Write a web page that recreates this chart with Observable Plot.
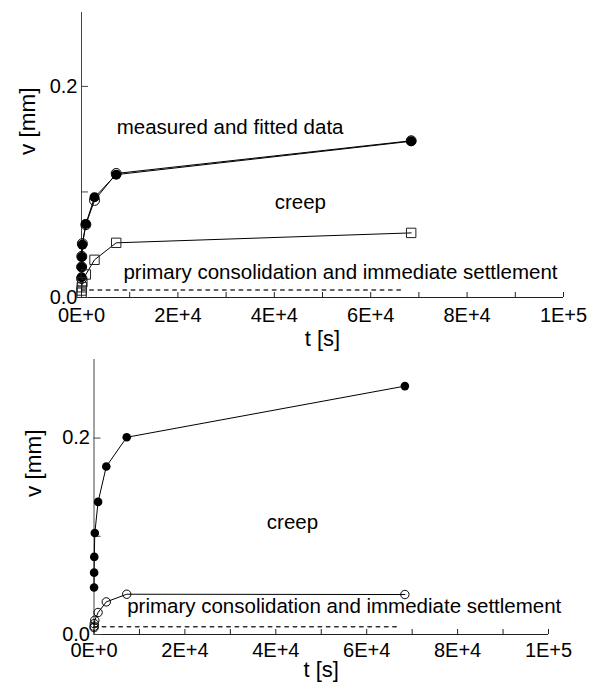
<!DOCTYPE html>
<html>
<head>
<meta charset="utf-8">
<script src="https://cdn.jsdelivr.net/npm/d3@7"></script>
<script src="https://cdn.jsdelivr.net/npm/@observablehq/plot@0.6"></script>
<style>
  body { margin: 0; background: white; }
  #chart svg { display: block; }
</style>
</head>
<body>
<div id="chart"></div>
<script>
// ---- data ----
const times = [15, 30, 60, 180, 900, 2700, 7200, 68400];           // t [s]
const topMeasured = [0.018, 0.029, 0.039, 0.051, 0.069, 0.092, 0.1175, 0.1485];
const topFitted   = [0.0192, 0.0287, 0.0383, 0.050, 0.0696, 0.0949, 0.1164, 0.148];
const topPrimary  = [0.0045, 0.0066, 0.0097, 0.0145, 0.0218, 0.0357, 0.0518, 0.0612];
const bottomTotal   = [0.0478, 0.063, 0.079, 0.1034, 0.135, 0.171, 0.2008, 0.2529];
const bottomPrimary = [0.007, 0.0084, 0.011, 0.0145, 0.0224, 0.0332, 0.041, 0.0407];
const dottedT = [0, 66500];
const topDottedV = 0.007;
const bottomDottedV = 0.008;

const xTickValues = [0, 10000, 20000, 30000, 40000, 50000, 60000, 70000, 80000, 90000, 100000];
const xLabelValues = [0, 20000, 40000, 60000, 80000, 100000];
const xTickLabels = ["0E+0", "2E+4", "4E+4", "6E+4", "8E+4", "1E+5"];
const yTickValues = [0, 0.1, 0.2];
const yLabelValues = [0, 0.2];
const yTickLabels = ["0.0", "0.2"];
const xTitle = "t [s]";
const yTitle = "v [mm]";
const topNotes = ["measured and fitted data", "creep", "primary consolidation and immediate settlement"];
const bottomNotes = ["creep", "primary consolidation and immediate settlement"];

const pts = (vals) => vals.map((v, i) => ({t: times[i], v}));

const FONT = "'Liberation Sans', Arial, Helvetica, sans-serif";

function axes(frameW, frameH, pad) {
  return [
    Plot.ruleY([0], {stroke: "#222", strokeWidth: 1}),
    Plot.ruleX([0], {stroke: "#444", strokeWidth: 1}),
    Plot.tickX(xTickValues, {x: d => d, insetTop: frameH - 5, stroke: "#222"}),
    Plot.tickY(yTickValues, {y: d => d, insetRight: frameW - 7, stroke: "#444"}),
    Plot.axisX({ticks: xLabelValues, tickFormat: d => xTickLabels[xLabelValues.indexOf(d)],
      tickSize: 0, tickPadding: pad, fontSize: 20, label: null}),
    Plot.axisY({ticks: yLabelValues, tickFormat: d => yTickLabels[yLabelValues.indexOf(d)],
      tickSize: 0, tickPadding: 4, fontSize: 20, label: null}),
  ];
}

function makePlot(cfg) {
  const {height, mL, mR, mT, mB, yMax, marks, titleDx, titleDy} = cfg;
  const frameW = 590 - mL - mR, frameH = height - mT - mB;
  return Plot.plot({
    width: 590, height,
    marginLeft: mL, marginRight: mR, marginTop: mT, marginBottom: mB,
    x: {domain: [0, 100000]},
    y: {domain: [0, yMax]},
    style: {fontFamily: FONT, fontSize: "20px", color: "black", background: "white", overflow: "visible"},
    marks: [
      ...axes(frameW, frameH, cfg.pad),
      Plot.text([xTitle], {text: d => d, frameAnchor: "bottom", dy: titleDy, lineAnchor: "bottom", fontSize: 22}),
      Plot.text([yTitle], {text: d => d, frameAnchor: "left", dx: titleDx, rotate: -90, lineAnchor: "bottom", fontSize: 22.5}),
      ...marks
    ]
  });
}

const topPlot = makePlot({
  height: 350, mL: 81, mR: 27, mT: 12, mB: 53, yMax: 0.27, pad: 10, titleDx: -47, titleDy: 48,
  marks: [
    Plot.line(dottedT, {x: d => d, y: () => topDottedV, stroke: "#333", strokeDasharray: "3.5,4.8"}),
    Plot.line(pts(topMeasured), {x: "t", y: "v", stroke: "black", strokeWidth: 1}),
    Plot.dot(pts(topMeasured), {x: "t", y: "v", r: 5, stroke: "black", fill: "none", strokeWidth: 1}),
    Plot.line(pts(topFitted), {x: "t", y: "v", stroke: "black", strokeWidth: 1}),
    Plot.dot(pts(topFitted), {x: "t", y: "v", r: 5, fill: "black", stroke: "none"}),
    Plot.line(pts(topPrimary), {x: "t", y: "v", stroke: "black", strokeWidth: 1}),
    Plot.dot(pts(topPrimary), {x: "t", y: "v", r: 5.3, symbol: "square", stroke: "#222", fill: "none", strokeWidth: 1}),
    Plot.text([topNotes[0]], {text: d => d, x: 7300, y: 0.1552, textAnchor: "start", lineAnchor: "bottom", fontSize: 20.5}),
    Plot.text([topNotes[1]], {text: d => d, x: 45400, y: 0.0842, textAnchor: "middle", lineAnchor: "bottom", fontSize: 20.5}),
    Plot.text([topNotes[2]], {text: d => d, x: 8700, y: 0.018, textAnchor: "start", lineAnchor: "bottom", fontSize: 20.5}),
  ]
});

const bottomPlot = makePlot({
  height: 336, mL: 93.5, mR: 42, mT: 9, mB: 52, yMax: 0.28, pad: 8, titleDx: -53, titleDy: 42,
  marks: [
    Plot.line(dottedT, {x: d => d, y: () => bottomDottedV, stroke: "#333", strokeDasharray: "3.5,4.8"}),
    Plot.line(pts(bottomTotal), {x: "t", y: "v", stroke: "black", strokeWidth: 1}),
    Plot.dot(pts(bottomTotal), {x: "t", y: "v", r: 4.3, fill: "black", stroke: "none"}),
    Plot.line(pts(bottomPrimary), {x: "t", y: "v", stroke: "black", strokeWidth: 1}),
    Plot.dot(pts(bottomPrimary), {x: "t", y: "v", r: 4.2, stroke: "black", fill: "none", strokeWidth: 1}),
    Plot.text([bottomNotes[0]], {text: d => d, x: 43670, y: 0.107, textAnchor: "middle", lineAnchor: "bottom", fontSize: 20.5}),
    Plot.text([bottomNotes[1]], {text: d => d, x: 7300, y: 0.0217, textAnchor: "start", lineAnchor: "bottom", fontSize: 20.5}),
  ]
});

const chart = document.getElementById("chart");
chart.appendChild(topPlot);
chart.appendChild(bottomPlot);
</script>
</body>
</html>
